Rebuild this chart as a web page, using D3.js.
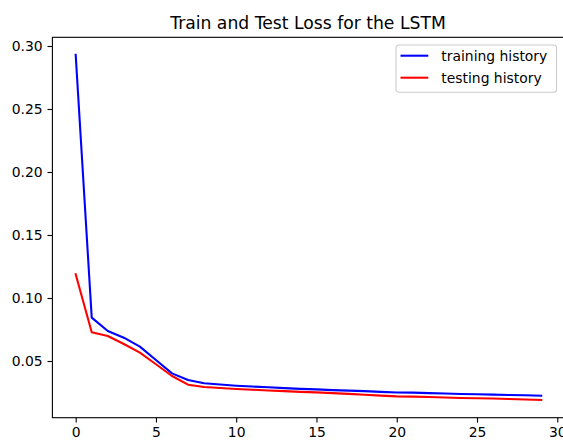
<!DOCTYPE html>
<html>
<head>
<meta charset="utf-8">
<script src="https://cdn.jsdelivr.net/npm/d3@7"></script>
<style>
  body { margin: 0; background: #fff; }
  #chart { width: 563px; height: 440px; }
  text { font-family: "DejaVu Sans", sans-serif; fill: #000; }
</style>
</head>
<body>
<div id="chart"></div>
<script>
// loss per epoch
var epochs = d3.range(30);
var trainLoss = [0.293, 0.0844, 0.0738, 0.0685, 0.0614, 0.0508, 0.0402, 0.0349, 0.0323, 0.0313,
                 0.0304, 0.0297, 0.0292, 0.0285, 0.0279, 0.0275, 0.0269, 0.0265, 0.0261, 0.0255,
                 0.0250, 0.0249, 0.0245, 0.0242, 0.0238, 0.0236, 0.0233, 0.0230, 0.0228, 0.0225];
var testLoss = [0.1188, 0.0728, 0.0698, 0.0635, 0.0566, 0.0474, 0.0381, 0.0312, 0.0294, 0.0286,
                0.0278, 0.0272, 0.0266, 0.0261, 0.0255, 0.0251, 0.0245, 0.0239, 0.0232, 0.0225,
                0.0219, 0.0217, 0.0214, 0.0210, 0.0207, 0.0205, 0.0202, 0.0198, 0.0194, 0.0191];
var xTicks = [0, 5, 10, 15, 20, 25, 30];
var yTicks = [0.05, 0.10, 0.15, 0.20, 0.25, 0.30];
var seriesNames = ["training history", "testing history"];
var seriesColors = ["#0000ff", "#ff0000"];
var titleText = "Train and Test Loss for the LSTM";

const margin = { top: 37.3, right: -1.5, bottom: 22.3, left: 52.4 };
const width = 563 - margin.left - margin.right;
const height = 440 - margin.top - margin.bottom;

var svg = d3.select("#chart")
  .append("svg")
  .attr("width", 563)
  .attr("height", 440);

var g = svg.append("g")
  .attr("transform", "translate(" + margin.left + "," + margin.top + ")");

// matplotlib-like 5% margins
var x = d3.scaleLinear().domain([-1.45, 30.45]).range([0, width]);
var y = d3.scaleLinear().domain([0.005, 0.3069]).range([height, 0]);

var xAxis = g.append("g")
  .attr("transform", "translate(0," + height + ")")
  .call(d3.axisBottom(x).tickValues(xTicks).tickFormat(d3.format("d")).tickSize(4.9).tickPadding(4.9));

var yAxis = g.append("g")
  .call(d3.axisLeft(y).tickValues(yTicks).tickFormat(d3.format(".2f")).tickSize(4.9).tickPadding(4.9));

[xAxis, yAxis].forEach(function(a) {
  a.selectAll("text").style("font-size", "13.9px").style("font-family", "DejaVu Sans, sans-serif").attr("fill", "#000");
  a.selectAll("line").attr("stroke", "#000").attr("stroke-width", 1.1);
  a.select(".domain").remove();
});

// spines
g.append("rect")
  .attr("x", 0).attr("y", 0)
  .attr("width", width).attr("height", height)
  .attr("fill", "none")
  .attr("stroke", "#000")
  .attr("stroke-width", 1.1);

var line = d3.line()
  .x(function(d, i) { return x(epochs[i]); })
  .y(function(d) { return y(d); });

[trainLoss, testLoss].forEach(function(s, i) {
  g.append("path")
    .datum(s)
    .attr("d", line)
    .attr("fill", "none")
    .attr("stroke", seriesColors[i])
    .attr("stroke-width", 2.08)
    .attr("stroke-linejoin", "round")
    .attr("stroke-linecap", "square");
});

// title
svg.append("text")
  .attr("x", margin.left + width / 2 - 0.5)
  .attr("y", 28.5)
  .attr("text-anchor", "middle")
  .style("font-size", "17.2px")
  .text(titleText);

// legend
var legend = svg.append("g").attr("transform", "translate(396,45)");
legend.append("rect")
  .attr("width", 160.5).attr("height", 47.3)
  .attr("rx", 2.8).attr("ry", 2.8)
  .attr("fill", "#fff").attr("fill-opacity", 0.8)
  .attr("stroke", "#cccccc").attr("stroke-width", 1.1);

seriesNames.forEach(function(name, i) {
  var yy = 10.7 + i * 22;
  legend.append("line")
    .attr("x1", 4.5).attr("x2", 32.3)
    .attr("y1", yy).attr("y2", yy)
    .attr("stroke", seriesColors[i]).attr("stroke-width", 2.08);
  legend.append("text")
    .attr("x", 45.3).attr("y", yy + 5)
    .style("font-size", "13.9px")
    .text(name);
});
</script>
</body>
</html>
